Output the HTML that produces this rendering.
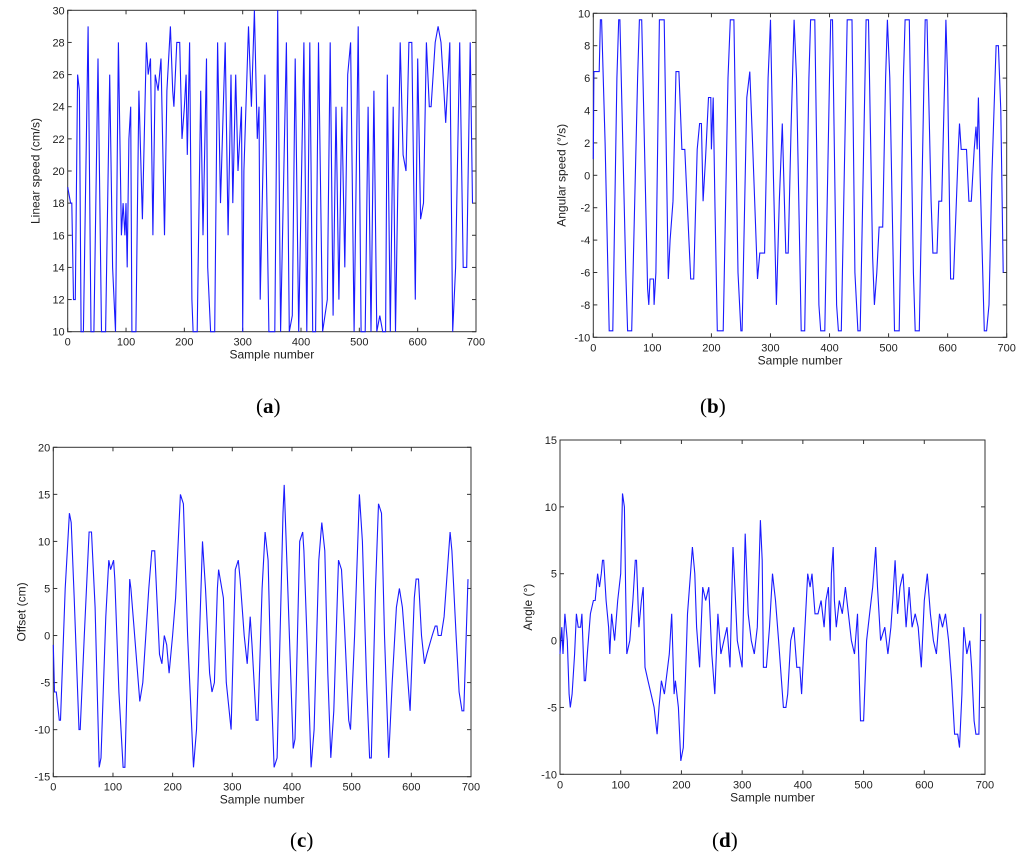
<!DOCTYPE html>
<html><head><meta charset="utf-8">
<style>
html,body{margin:0;padding:0;background:#fff;}
body{width:1024px;height:859px;position:relative;overflow:hidden;}
svg{position:absolute;left:0;top:0;}
.cap{position:absolute;font-family:"Liberation Serif",serif;font-size:21px;color:#000;}
</style></head>
<body>
<svg id="chart" width="1024" height="859"></svg>
<div class="cap" style="left:256px;top:394px">(<b>a</b>)</div>
<div class="cap" style="left:700px;top:394px">(<b>b</b>)</div>
<div class="cap" style="left:290px;top:828px">(<b>c</b>)</div>
<div class="cap" style="left:712px;top:828px">(<b>d</b>)</div>
<script>
const xTicks = [0,100,200,300,400,500,600,700];

const speedX = [0,5,7,10,13,17,20,23,27,35,40,45,52,58,65,72,77,82,87,92,95,98,100,102,105,108,110,117,122,128,135,138,142,146,150,155,160,166,170,176,180,182,187,192,196,200,203,205,209,213,215,222,228,232,238,240,245,252,257,262,270,275,280,283,288,292,298,300,302,310,315,320,325,328,330,338,345,355,360,365,375,380,385,390,396,405,410,415,420,425,430,437,445,450,455,460,465,470,475,480,485,491,498,503,510,515,520,525,530,535,540,545,548,553,558,562,570,575,580,585,590,596,600,605,610,615,620,623,630,635,640,645,648,655,660,665,672,678,684,690,694];
const speedY = [19,18,18,12,12,26,25,10,10,29,10,10,27,10,10,26,14,10,28,16,18,16,18,14,22,24,10,10,25,17,28,26,27,16,26,25,27,16,25,29,25,24,28,28,22,24,26,21,28,12,10,10,25,16,27,14,10,10,28,18,28,16,26,18,26,20,24,10,20,29,24,30,22,24,12,26,10,10,30,10,28,10,11,27,10,28,10,28,10,10,28,10,12,28,11,24,12,24,14,26,28,10,29,10,10,24,10,25,10,11,10,10,26,10,24,10,28,21,20,28,28,12,27,17,18,28,24,24,28,29,28,25,23,28,10,14,28,14,14,28,18];
const speedTicks = [10,12,14,16,18,20,22,24,26,28,30];

const angSpeedX = [0,1,10,12,14,20,27,33,40,43,45,55,58,65,75,78,82,92,94,96,102,103,106,112,120,127,130,135,140,145,150,155,165,170,176,180,183,186,190,195,199,200,203,206,210,220,228,232,238,245,250,252,260,265,270,278,282,290,296,300,305,310,315,320,326,330,335,340,344,352,358,365,368,375,382,385,392,400,402,405,412,415,420,428,430,438,443,448,452,460,462,466,473,476,480,484,490,495,498,502,510,518,525,528,535,542,545,552,560,562,565,572,575,582,585,590,595,597,600,605,610,618,620,623,632,636,640,645,648,650,652,655,662,666,670,675,682,686,690,694];
const angSpeedY = [1,6.4,6.4,9.6,9.6,2,-9.6,-9.6,6,9.6,9.6,-6,-9.6,-9.6,6,9.6,9.6,-7,-8,-6.4,-6.4,-8,-6,9.6,9.6,-6.4,-4,-1.6,6.4,6.4,1.6,1.6,-6.4,-6.4,1.6,3.2,3.2,-1.6,1,4.8,4.8,1.6,4.8,-2,-9.6,-9.6,6,9.6,9.6,-6,-9.6,-9.6,4.8,6.4,1.6,-6.4,-4.8,-4.8,6,9.6,0,-8,-1.6,3.2,-4.8,-4.8,3,9.6,6,-9.6,-9.6,6,9.6,9.6,-8,-9.6,-9.6,6,9.6,9.6,-8,-9.6,-9.6,6,9.6,9.6,-6,-9.6,-9.6,6,9.6,9.6,-5,-8,-6,-3.2,-3.2,6,9.6,6,-9.6,-9.6,6,9.6,9.6,-6,-9.6,-9.6,6,9.6,9.6,-1.6,-4.8,-4.8,-1.6,-1.6,6,9.6,6,-6.4,-6.4,1.6,3.2,1.6,1.6,-1.6,-1.6,1.6,3,1.6,4.8,0,-9.6,-9.6,-8,0,8,8,4,-6];
const angSpeedTicks = [-10,-8,-6,-4,-2,0,2,4,6,8,10];

const offsetX = [0,2,5,10,12,20,27,30,35,43,45,52,60,64,70,77,80,88,93,96,101,103,110,117,120,128,130,135,145,150,160,165,170,178,182,186,190,194,200,205,213,218,225,235,240,250,255,262,266,270,275,277,285,290,298,305,310,313,320,325,330,333,340,343,350,355,360,365,370,375,385,387,393,402,405,413,418,420,425,432,437,445,450,455,460,465,470,478,483,488,495,498,505,513,518,525,530,533,540,545,550,555,562,568,575,580,585,592,598,605,608,612,617,622,626,635,640,643,645,650,655,665,668,675,680,685,688,695];
const offsetY = [-1,-6,-6,-9,-9,5,13,12,4,-10,-10,0,11,11,3,-14,-13,2,8,7,8,6,-6,-14,-14,6,5,1,-7,-5,5,9,9,-2,-3,0,-1,-4,0,4,15,14,0,-14,-10,10,5,-4,-6,-5,5,7,4,-5,-10,7,8,6,0,-3,2,-1,-9,-9,5,11,8,-5,-14,-13,13,16,5,-12,-11,10,11,9,0,-14,-10,8,12,9,-4,-13,-8,8,7,1,-9,-10,0,15,10,-5,-13,-13,5,14,13,0,-13,-5,3,5,3,-3,-8,4,6,6,0,-3,-2,0,1,1,0,0,2,11,9,0,-6,-8,-8,6];
const offsetTicks = [-15,-10,-5,0,5,10,15,20];

const angleX = [0,3,5,8,12,15,17,20,24,27,30,34,36,40,42,45,50,55,58,62,65,68,70,72,76,80,82,85,90,95,100,103,106,108,110,115,120,124,126,130,134,137,140,145,150,155,160,163,167,172,180,184,188,190,195,199,203,210,215,218,222,225,230,235,240,245,250,255,260,265,270,275,280,285,288,292,300,305,310,315,320,325,330,333,335,340,345,350,355,360,368,372,375,380,385,390,395,398,400,408,412,415,420,425,430,435,438,442,445,447,450,452,455,460,465,470,475,480,485,490,495,500,505,510,515,520,523,528,535,540,545,548,552,556,560,565,570,575,580,585,590,595,600,605,610,615,620,625,630,635,640,645,650,655,658,662,665,670,675,678,682,685,690,693];
const angleY = [-1,1,-1,2,0,-4,-5,-4,-1,2,1,1,2,-3,-3,-1,2,3,3,5,4,5,6,6,3,1,-1,2,0,3,5,11,10,4,-1,0,3,6,6,1,3,4,-2,-3,-4,-5,-7,-5,-3,-4,-1,2,-4,-3,-5,-9,-8,2,5,7,5,1,-2,4,3,4,-1,-4,2,-1,0,1,-2,7,4,0,-2,8,2,0,-1,1,9,6,-2,-2,1,5,3,0,-5,-5,-4,0,1,-2,-2,-4,-2,5,4,5,2,2,3,1,3,4,0,5,7,3,1,3,2,4,2,0,-1,2,-6,-6,0,2,4,7,4,0,1,-1,1,3,6,2,4,5,1,4,1,2,1,-2,3,5,2,0,-1,2,1,2,0,-3,-7,-7,-8,-4,1,-1,0,-2,-6,-7,-7,2];
const angleTicks = [-10,-5,0,5,10,15];

const NS = 'http://www.w3.org/2000/svg';
const svg = document.getElementById('chart');
function mk(tag, attrs, parent){
  const e = document.createElementNS(NS, tag);
  for (const k in attrs) e.setAttribute(k, attrs[k]);
  (parent||svg).appendChild(e);
  return e;
}
function panel(id, box, xs, ys, yTicks, ylabel){
  const [L,T,R,B] = box;
  const g = mk('g', {});
  
  
  const y0 = yTicks[0], y1 = yTicks[yTicks.length-1];
  const sx = v => L + (v - 0) / 700 * (R - L);
  const sy = v => B - (v - y0) / (y1 - y0) * (B - T);
  const frame = mk('rect', {x:L, y:T, width:R-L, height:B-T, fill:'#fff', stroke:'#333', 'stroke-width':1}, g);
  
  
  xTicks.forEach(t => {
    const x = sx(t);
    mk('line', {x1:x, y1:B, x2:x, y2:B-4, stroke:'#333'}, g);
    mk('line', {x1:x, y1:T, x2:x, y2:T+4, stroke:'#333'}, g);
    const tx = mk('text', {x:x, y:B+14, 'text-anchor':'middle', 'font-family':'Liberation Sans, sans-serif', 'font-size':11, fill:'#222'}, g);
    tx.textContent = t;
    
    
  });
  yTicks.forEach(t => {
    const y = sy(t);
    mk('line', {x1:L, y1:y, x2:L+4, y2:y, stroke:'#333'}, g);
    mk('line', {x1:R, y1:y, x2:R-4, y2:y, stroke:'#333'}, g);
    const ty = mk('text', {x:L-3, y:y+4, 'text-anchor':'end', 'font-family':'Liberation Sans, sans-serif', 'font-size':11, fill:'#222'}, g);
    ty.textContent = t;
    
    
  });
  const xl = mk('text', {x:(L+R)/2, y:B+27, 'text-anchor':'middle', 'font-family':'Liberation Sans, sans-serif', 'font-size':12, fill:'#222'}, g);
  xl.textContent = 'Sample number';
  
  
  const yx = L - 28, yy = (T+B)/2;
  const yl = mk('text', {x:yx, y:yy, 'text-anchor':'middle', 'font-family':'Liberation Sans, sans-serif', 'font-size':12, fill:'#222', transform:'rotate(-90 '+yx+' '+yy+')'}, g);
  yl.textContent = ylabel;
  
  
  let pts = [];
  for (let i=0;i<xs.length;i++){
    pts.push(sx(xs[i]).toFixed(1)+','+sy(ys[i]).toFixed(1));
  }
  const line = mk('polyline', {points:pts.join(' '), fill:'none', stroke:'#1a1aff', 'stroke-width':1.1}, g);
  
  
}
panel('panel-linear-speed', [67.7,10.3,476,331.7], speedX, speedY, speedTicks, 'Linear speed (cm/s)');
panel('panel-angular-speed', [593.3,13.3,1006.7,337.3], angSpeedX, angSpeedY, angSpeedTicks, 'Angular speed (°/s)');
panel('panel-offset', [53.3,447.3,471,776.7], offsetX, offsetY, offsetTicks, 'Offset (cm)');
panel('panel-angle', [560,440,985,774.3], angleX, angleY, angleTicks, 'Angle (°)');
</script>
</body></html>
